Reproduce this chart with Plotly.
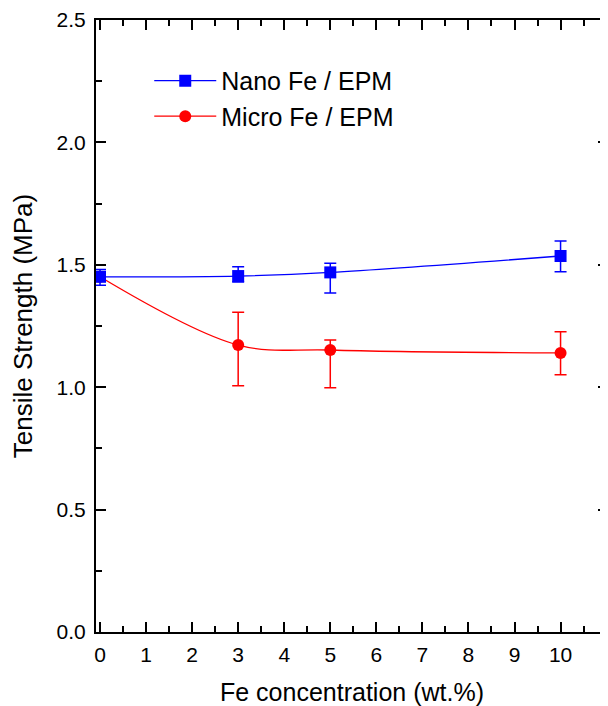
import plotly.graph_objects as go

# Data
conc = [0, 3, 5, 10]
nano_ts = [1.451, 1.454, 1.469, 1.536]
nano_err_plus = [0.03, 0.038, 0.037, 0.061]
nano_err_minus = [0.035, 0.024, 0.084, 0.064]
micro_ts = [1.451, 1.172, 1.152, 1.140]
micro_err_plus = [0.0, 0.134, 0.041, 0.087]
micro_err_minus = [0.0, 0.166, 0.154, 0.089]
x_ticks = [0, 1, 2, 3, 4, 5, 6, 7, 8, 9, 10]

FONT = "Liberation Sans, Arial, sans-serif"

fig = go.Figure()
fig.add_trace(go.Scatter(
    x=conc, y=micro_ts, name="Micro Fe / EPM", mode="lines+markers",
    line=dict(color="#ff0000", width=1.3, shape="spline", smoothing=1.0),
    marker=dict(symbol="circle", size=12, color="#ff0000"),
    error_y=dict(type="data", symmetric=False, array=micro_err_plus,
                 arrayminus=micro_err_minus, color="#ff0000", thickness=1.5, width=6),
))
fig.add_trace(go.Scatter(
    x=conc, y=nano_ts, name="Nano Fe / EPM", mode="lines+markers",
    line=dict(color="#0000ff", width=1.3, shape="spline", smoothing=1.0),
    marker=dict(symbol="square", size=12, color="#0000ff"),
    error_y=dict(type="data", symmetric=False, array=nano_err_plus,
                 arrayminus=nano_err_minus, color="#0000ff", thickness=1.5, width=6),
))

axis_common = dict(
    showline=True, linecolor="black", linewidth=2, mirror="allticks",
    ticks="inside", ticklen=10, tickwidth=2, tickcolor="black",
    showgrid=False, zeroline=False, automargin=False,
    tickfont=dict(family=FONT, size=21, color="black"),
)

fig.update_xaxes(
    **axis_common, range=[-0.087, 11.03], tickmode="array", tickvals=x_ticks,
    ticklabelstandoff=3,
    minor=dict(tickmode="linear", tick0=0, dtick=0.5, ticks="inside", ticklen=6,
               tickwidth=2, tickcolor="black", showgrid=False),
    title=dict(text="Fe concentration (wt.%)", font=dict(family=FONT, size=25, color="black"),
               standoff=19),
)
fig.update_yaxes(
    **axis_common, range=[0, 2.5], tickmode="linear", tick0=0, dtick=0.5, tickformat=".1f",
    ticklabelstandoff=4,
    minor=dict(tickmode="linear", tick0=0, dtick=0.25, ticks="inside", ticklen=6,
               tickwidth=2, tickcolor="black", showgrid=False),
    title=dict(text="Tensile Strength (MPa)", font=dict(family=FONT, size=26, color="black"),
               standoff=18),
)

# the page body has an 8px margin, so the figure is offset by 8px
fig.update_layout(
    width=600, height=698,
    margin=dict(l=88, r=0, t=12, b=74),
    plot_bgcolor="white", paper_bgcolor="white",
    legend=dict(x=0.104, y=0.938, xanchor="left", yanchor="top",
                traceorder="reversed", bgcolor="rgba(0,0,0,0)",
                font=dict(family=FONT, size=25, color="black"),
                itemwidth=62, tracegroupgap=0),
    showlegend=True,
)

fig.write_html("out.html")
